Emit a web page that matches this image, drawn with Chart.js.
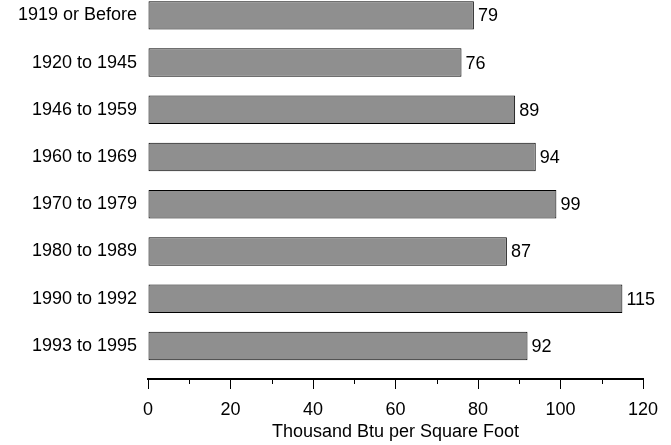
<!DOCTYPE html>
<html>
<head>
<meta charset="utf-8">
<script src="https://cdn.jsdelivr.net/npm/chart.js@4/dist/chart.umd.min.js"></script>
<style>
  html, body { margin: 0; padding: 0; background: #fff; }
  #wrap { width: 671px; height: 445px; }
</style>
</head>
<body>
<div id="wrap"><canvas id="chart" width="671" height="445"></canvas></div>
<script>
const categories = ['1919 or Before', '1920 to 1945', '1946 to 1959', '1960 to 1969',
  '1970 to 1979', '1980 to 1989', '1990 to 1992', '1993 to 1995'];
const intensity = [79, 76, 89, 94, 99, 87, 115, 92];
const xTicks = [0, 20, 40, 60, 80, 100, 120];
const minorTicks = [10, 30, 50, 70, 90, 110];

const font = { family: "'Liberation Sans', Arial, sans-serif", size: 18 };

// value labels at the end of each bar
const valueLabels = {
  id: 'valueLabels',
  afterDatasetsDraw(chart) {
    const ctx = chart.ctx;
    const meta = chart.getDatasetMeta(0);
    ctx.save();
    ctx.font = font.size + 'px ' + font.family;
    ctx.fillStyle = '#000';
    ctx.textAlign = 'left';
    ctx.textBaseline = 'middle';
    meta.data.forEach((bar, i) => {
      ctx.fillText(String(intensity[i]), bar.x + 4, bar.y + 1);
    });
    ctx.restore();
  }
};

// shorter minor ticks between the labelled ones
const minorTickMarks = {
  id: 'minorTickMarks',
  afterDraw(chart) {
    const ctx = chart.ctx;
    const x = chart.scales.x;
    const y0 = chart.chartArea.bottom;
    ctx.save();
    ctx.strokeStyle = '#000';
    ctx.lineWidth = 1;
    minorTicks.forEach(v => {
      const px = Math.round(x.getPixelForValue(v)) + 0.5;
      ctx.beginPath();
      ctx.moveTo(px, y0);
      ctx.lineTo(px, y0 + 5);
      ctx.stroke();
    });
    ctx.restore();
  }
};

new Chart(document.getElementById('chart'), {
  type: 'bar',
  data: {
    datasets: [{
      data: intensity.map((v, i) => ({ x: v, y: i })),
      backgroundColor: '#8f8f8f',
      borderColor: '#000',
      borderWidth: 1,
      borderSkipped: false,
      barPercentage: 0.6,
      categoryPercentage: 1
    }]
  },
  options: {
    indexAxis: 'y',
    responsive: false,
    animation: false,
    layout: { padding: { top: 0, right: 28, bottom: 0, left: 0 } },
    plugins: { legend: { display: false }, tooltip: { enabled: false } },
    scales: {
      y: {
        type: 'linear',
        reverse: true,
        offset: false,
        min: -0.324,
        max: 7.699,
        grid: { display: false, drawTicks: false },
        border: { display: false },
        afterBuildTicks(scale) {
          scale.ticks = categories.map((c, i) => ({ value: i }));
        },
        afterFit(scale) {
          scale.width = 148;
          scale.paddingTop = 0;
          scale.paddingBottom = 0;
        },
        ticks: {
          color: '#000',
          font: font,
          padding: 11,
          callback: v => categories[v]
        }
      },
      x: {
        type: 'linear',
        min: 0,
        max: 120,
        afterBuildTicks(scale) {
          scale.ticks = xTicks.map(v => ({ value: v }));
        },
        afterFit(scale) {
          scale.height = 66;
        },
        grid: {
          drawOnChartArea: false,
          tickLength: 10,
          tickColor: '#000',
          tickWidth: 1
        },
        border: { display: true, color: '#000', width: 2 },
        ticks: { color: '#000', font: font, padding: 10 },
        title: {
          display: true,
          text: 'Thousand Btu per Square Foot',
          color: '#000',
          font: font,
          padding: { top: 1, bottom: 2 }
        }
      }
    }
  },
  plugins: [valueLabels, minorTickMarks]
});
</script>
</body>
</html>
